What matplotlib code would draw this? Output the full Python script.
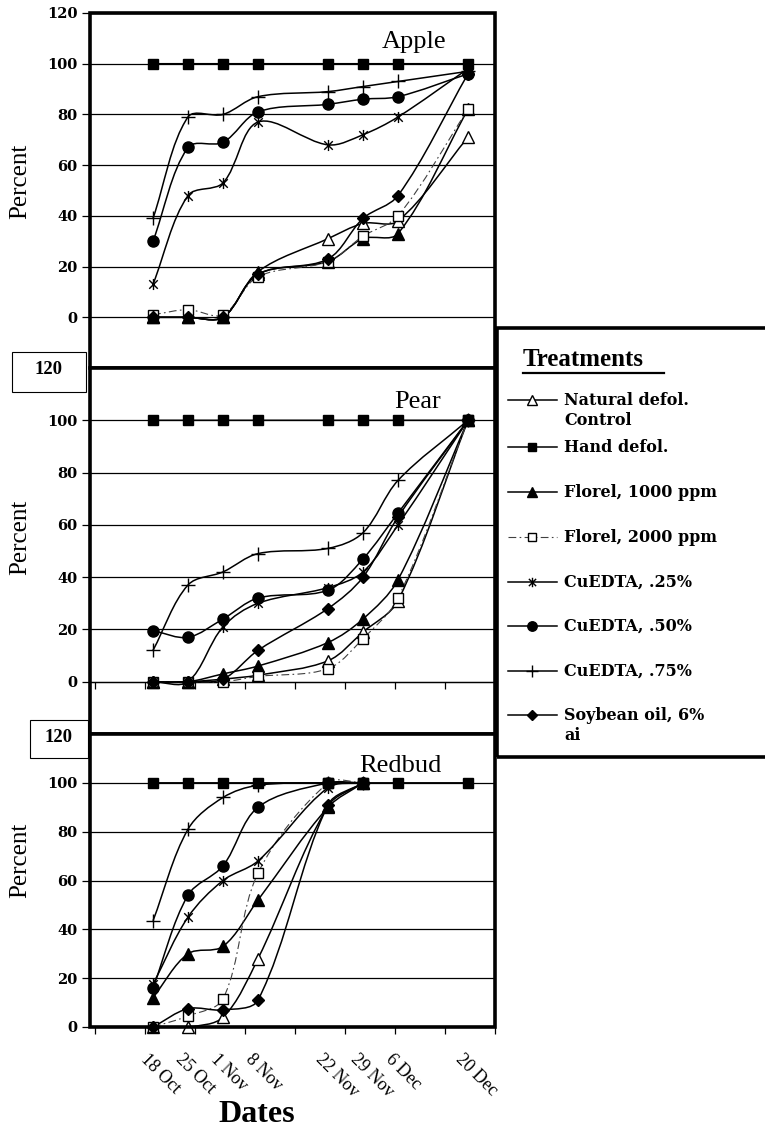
import matplotlib

matplotlib.use("Agg")
import matplotlib.pyplot as plt
import numpy as np
from matplotlib.patches import PathPatch, Rectangle
from matplotlib.path import Path
from matplotlib.transforms import ScaledTranslation

plt.rcParams["font.family"] = ["Liberation Serif", "DejaVu Serif"]

# ---- data -----------------------------------------------------------------
dates = ["18 Oct", "25 Oct", "1 Nov", "8 Nov", "22 Nov", "29 Nov", "6 Dec", "20 Dec"]
days = [0, 7, 14, 21, 35, 42, 49, 63]  # days after 18 Oct

treatments = ["Natural defol.\nControl", "Hand defol.", "Florel, 1000 ppm",
              "Florel, 2000 ppm", "CuEDTA, .25%", "CuEDTA, .50%",
              "CuEDTA, .75%", "Soybean oil, 6%\nai"]

nan = np.nan
apple_natural = [0, 0, 0, 18, 31, 37, 38, 71]
apple_hand = [100, 100, 100, 100, 100, 100, 100, 100]
apple_florel1000 = [0, 0, 0, 17, 22, 31, 33, 82]
apple_florel2000 = [1, 3, 1, 16, 22, 32, 40, 82]
apple_cu25 = [13, 48, 53, 77, 68, 72, 79, 98]
apple_cu50 = [30, 67, 69, 81, 84, 86, 87, 96]
apple_cu75 = [39, 79, 80, 87, 89, 91, 93, 97]
apple_soy = [0, 0, 0, 17, 23, 39, 48, 96]

pear_natural = [0, 0, 1, 2.5, 8, 19, 31, 100]
pear_hand = [100, 100, 100, 100, 100, 100, 100, 100]
pear_florel1000 = [0, 0, 3, 6, 15, 24, 39, 100]
pear_florel2000 = [0, 0, 0, 2, 5, 16.5, 32, 100]
pear_cu25 = [0, 0, 21, 30, 36, 42, 60, 100]
pear_cu50 = [19.5, 17, 24, 32, 35, 47, 64.5, 100]
pear_cu75 = [12, 37, 42, 49, 51, 57, 77, 100]
pear_soy = [0, 0, 1, 12, 28, 40, 63, 100]

redbud_natural = [0, 0, 4, 28, 90.5, 100, nan, nan]
redbud_hand = [100, 100, 100, 100, 100, 100, 100, 100]
redbud_florel1000 = [12, 30, 33, 52, 90, 100, nan, nan]
redbud_florel2000 = [0, 4.5, 11.5, 63, 100, 100, nan, nan]
redbud_cu25 = [17.5, 45, 60, 68, 98, 100, nan, nan]
redbud_cu50 = [16, 54, 66, 90, 100, 100, nan, nan]
redbud_cu75 = [43.5, 81, 94, 99, 100, 100, nan, nan]
redbud_soy = [0, 7.5, 7, 11, 91, 100, nan, nan]

# ---- styles ----------------------------------------------------------------
ASTERISK = Path([(-1, -1), (1, 1), (-1, 1), (1, -1), (0, -1.3), (0, 1.3)],
                [Path.MOVETO, Path.LINETO, Path.MOVETO, Path.LINETO,
                 Path.MOVETO, Path.LINETO])
DASHDOT = (0, (7, 3, 1.5, 3))
STYLES = [
    dict(marker="^", mfc="white", ms=8, ls="-", lw=1.1, color="black"),
    dict(marker="s", mfc="black", ms=7.5, ls="-", lw=1.1, color="black"),
    dict(marker="^", mfc="black", ms=8, ls="-", lw=1.1, color="black"),
    dict(marker="s", mfc="white", ms=7.5, ls=DASHDOT, lw=0.8, color="0.25"),
    dict(marker=ASTERISK, mfc="none", ms=8, ls="-", lw=1.1, color="black"),
    dict(marker="o", mfc="black", ms=8, ls="-", lw=1.1, color="black"),
    dict(marker="+", mfc="none", ms=10, ls="-", lw=1.1, color="black"),
    dict(marker="D", mfc="black", ms=6, ls="-", lw=1.1, color="black"),
]


def smooth_path(x, y, xscale=2.0):
    """Excel-like smoothed line: cubic Bezier, tangents weighted by segment length."""
    pts = [np.array((a, b), float) for a, b in zip(x, y) if not np.isnan(b)]
    n = len(pts)

    def dist(p, q):
        return np.hypot((q[0] - p[0]) * xscale, q[1] - p[1])

    verts, codes = [tuple(pts[0])], [Path.MOVETO]
    for i in range(n - 1):
        p0, p1 = pts[max(i - 1, 0)], pts[i]
        p2, p3 = pts[i + 1], pts[min(i + 2, n - 1)]
        d01, d12, d23 = dist(p0, p1), dist(p1, p2), dist(p2, p3)
        c1 = p1 + (p2 - p0) * d12 / (3 * (d01 + d12))
        c2 = p2 - (p3 - p1) * d12 / (3 * (d12 + d23))
        verts += [tuple(c1), tuple(c2), tuple(p2)]
        codes += [Path.CURVE4] * 3
    return Path(verts, codes)


W_PX, H_PX = 765, 1131
fig = plt.figure(figsize=(W_PX / 100, H_PX / 100), dpi=100)
XMIN, XMAX = -12.6, 68.4
LEFT, RIGHT = 90, 495
minor_pos = [-11.6 + 10 * k for k in range(9)]
TICKFONT = dict(family="DejaVu Serif", weight="bold", size=10.5)


def make_panel(top, bottom, ymin, series, title, title_xy, label_y):
    ax = fig.add_axes([LEFT / W_PX, 1 - bottom / H_PX,
                       (RIGHT - LEFT) / W_PX, (bottom - top) / H_PX])
    ax.set_xlim(XMIN, XMAX)
    ax.set_ylim(ymin, 120)
    for s in ax.spines.values():
        s.set_visible(False)
    ax.add_patch(Rectangle((0, 0), 1, 1, transform=ax.transAxes, fill=False,
                           lw=2.6, ec="black", clip_on=False, zorder=6))
    ax.yaxis.grid(True, color="black", lw=0.9)
    ax.set_axisbelow(True)
    ax.tick_params(axis="y", direction="out", length=6, width=0.9, pad=3)
    for vals, st in zip(series, STYLES):
        ax.add_patch(PathPatch(smooth_path(days, vals), fill=False,
                               ec=st["color"], lw=st["lw"], ls=st["ls"], zorder=3))
    for vals, st in zip(series, STYLES):
        ax.plot(days, vals, ls="none", marker=st["marker"], ms=st["ms"],
                mfc=st["mfc"], mec="black", mew=1.0, zorder=4, clip_on=False)
    ax.text(*title_xy, title, transform=ax.transAxes, fontsize=19,
            ha="center", va="center")
    ax.set_ylabel("Percent", fontsize=18)
    ax.yaxis.set_label_coords(-0.145, label_y)
    return ax


apple = make_panel(13, 368, -20,
                   [apple_natural, apple_hand, apple_florel1000, apple_florel2000,
                    apple_cu25, apple_cu50, apple_cu75, apple_soy],
                   "Apple", (0.80, 0.918), 0.527)
apple.set_yticks(range(0, 121, 20), [str(v) for v in range(0, 121, 20)], **TICKFONT)
apple.set_xticks([])

pear = make_panel(368, 734, -20,
                  [pear_natural, pear_hand, pear_florel1000, pear_florel2000,
                   pear_cu25, pear_cu50, pear_cu75, pear_soy],
                  "Pear", (0.81, 0.907), 0.536)
pear.set_yticks(range(0, 101, 20), [str(v) for v in range(0, 101, 20)], **TICKFONT)
pear.spines["bottom"].set_visible(True)
pear.spines["bottom"].set_position(("data", 0))
pear.spines["bottom"].set_linewidth(0.9)
pear.set_xticks([])
pear.set_xticks(minor_pos, minor=True)
pear.tick_params(axis="x", which="minor", direction="out", length=5, width=0.9)

redbud = make_panel(734, 1027, 0,
                    [redbud_natural, redbud_hand, redbud_florel1000, redbud_florel2000,
                     redbud_cu25, redbud_cu50, redbud_cu75, redbud_soy],
                    "Redbud", (0.767, 0.891), 0.57)
redbud.set_yticks(range(0, 101, 20), [str(v) for v in range(0, 101, 20)], **TICKFONT)
redbud.set_xticks(days, dates, rotation=-45, ha="left", va="top", fontsize=13)
redbud.set_xticks(minor_pos, minor=True)
redbud.tick_params(axis="x", which="major", length=0, pad=17)
redbud.tick_params(axis="x", which="minor", direction="out", length=5, width=0.9)
shift = ScaledTranslation(-0.16, 0, fig.dpi_scale_trans)
for lab in redbud.get_xticklabels():
    lab.set_transform(lab.get_transform() + shift)

# the boxed "120" labels of the lower two panels
for (x0, y0, x1, y1) in [(12, 352, 86, 392), (30, 720, 88, 758)]:
    fig.patches.append(Rectangle((x0 / W_PX, 1 - y1 / H_PX), (x1 - x0) / W_PX,
                                 (y1 - y0) / H_PX, transform=fig.transFigure,
                                 fill=True, fc="white", ec="black", lw=0.8))
    fig.text((x0 + x1) / 2 / W_PX, 1 - ((y0 + y1) / 2 - 2) / H_PX, "120",
             ha="center", va="center", fontsize=13.5, fontweight="bold")

fig.text(257 / W_PX, 1 - 1115 / H_PX, "Dates", ha="center", va="center",
         fontsize=23, fontweight="bold")

# ---- legend box --------------------------------------------------------------
lg = fig.add_axes([497 / W_PX, 1 - 757 / H_PX, (780 - 497) / W_PX, (757 - 328) / H_PX])
lg.set_xlim(497, 780)
lg.set_ylim(757, 328)
lg.axis("off")
lg.add_patch(Rectangle((0, 0), 1, 1, transform=lg.transAxes, fill=False,
                       lw=2.6, ec="black", clip_on=False))
lg.text(523, 360, "Treatments", fontsize=18, fontweight="bold", va="center")
lg.plot([523, 664], [373, 373], color="black", lw=1.6)
entry_y = [400, 447, 492, 537, 582, 626, 671, 715]
for label, st, y in zip(treatments, STYLES, entry_y):
    lg.plot([508, 557], [y, y], color=st["color"], lw=st["lw"], ls=st["ls"])
    lg.plot([532], [y], ls="none", marker=st["marker"], ms=st["ms"] * 0.85,
            mfc=st["mfc"], mec="black", mew=1.0)
    lg.text(564, y - 8, label, fontsize=11.5, fontweight="bold", va="top",
            family="DejaVu Serif", linespacing=1.2)

fig.savefig("out.png", dpi=100)
